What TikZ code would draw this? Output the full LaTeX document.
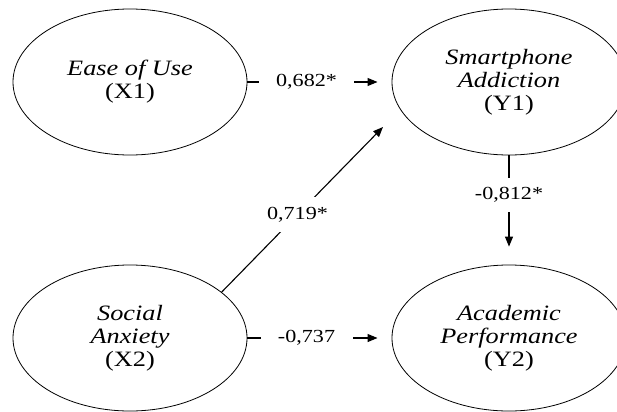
\documentclass[tikz,border=0pt]{standalone}
\usepackage{fontspec}
\setmainfont{Liberation Serif}
\usetikzlibrary{shapes.geometric,arrows.meta}
\begin{document}
\begin{tikzpicture}[x=1bp,y=1bp,
		var/.style={draw, ellipse, xscale=1.2, minimum width=195bp, minimum height=146bp, line width=0.8bp, align=center, font=\fontsize{22}{23}\selectfont\itshape},
		effect/.style={-{Triangle[length=10bp,width=8bp]}, line width=1.1bp},
		coef/.style={fill=white, xscale=1.2, inner xsep=14.5bp, inner ysep=9.5bp, font=\fontsize{18.5}{20}\selectfont}]
		\useasboundingbox (0,0) rectangle (617,411);
		\node[var] (x1) at (130,329) {Ease of Use\\\upshape(X1)};
		\node[var] (y1) at (509,329) {Smartphone\\Addiction\\\upshape(Y1)};
		\node[var] (x2) at (130,73) {Social\\Anxiety\\\upshape(X2)};
		\node[var] (y2) at (509,73) {Academic\\Performance\\\upshape(Y2)};
		\coordinate (tip) at (383,284);
		\draw[effect, shorten >=14bp] (x1.east) -- node[coef, pos=.41] {0,682*} (y1.west);
		\draw[effect, shorten >=14bp] (x2.east) -- node[coef, pos=.41] {-0,737} (y2.west);
		\draw[effect, shorten >=18bp] (y1.south) -- node[coef, pos=.36] {-0,812*} (y2.north);
		\draw[effect] (x2.31) -- node[coef, pos=.47] {0,719*} (tip);
\end{tikzpicture}
\end{document}
